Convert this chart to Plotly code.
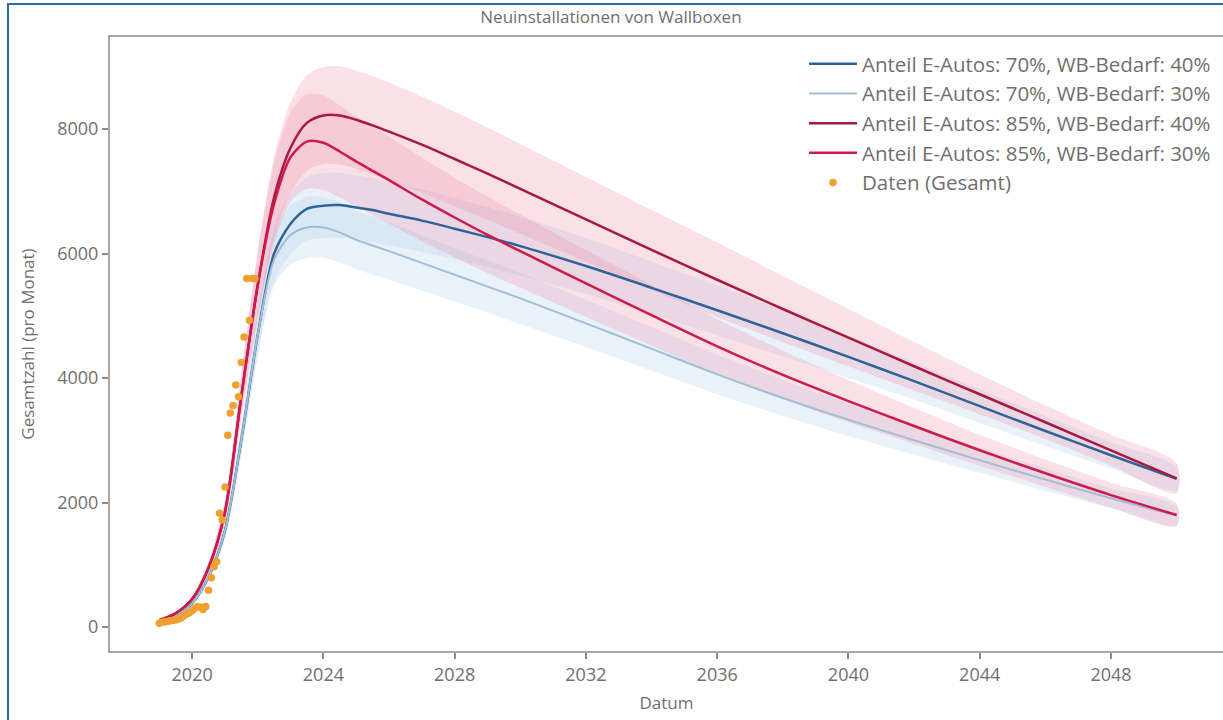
import plotly.graph_objects as go

# ---------------- data ----------------
dates = ["2019-01-01", "2019-07-01", "2020-01-01", "2020-07-01", "2021-01-01", "2021-07-01",
         "2022-01-01", "2022-07-01", "2023-01-01", "2023-07-01", "2024-01-01", "2024-07-01",
         "2025-01-01", "2025-07-01", "2026-01-01", "2027-01-01", "2028-01-01", "2029-01-01",
         "2030-01-01", "2032-01-01", "2034-01-01", "2036-01-01", "2038-01-01", "2040-01-01",
         "2042-01-01", "2044-01-01", "2046-01-01", "2048-01-01", "2050-01-01"]

v_70_40 = [100, 190, 380, 800, 1550, 3000, 4700, 6000, 6480, 6720, 6770, 6780, 6740, 6700,
           6640, 6530, 6400, 6265, 6120, 5800, 5450, 5090, 4720, 4340, 3950, 3550, 3150, 2760, 2380]
v_70_30 = [100, 190, 380, 800, 1550, 3000, 4700, 5900, 6300, 6420, 6420, 6340, 6220, 6130,
           6040, 5850, 5660, 5470, 5280, 4880, 4470, 4060, 3680, 3330, 3000, 2680, 2370, 2070, 1790]
v_85_40 = [110, 220, 450, 950, 1850, 3700, 5500, 6900, 7700, 8100, 8220, 8220, 8150, 8060,
           7960, 7750, 7520, 7285, 7040, 6550, 6060, 5580, 5110, 4650, 4190, 3740, 3290, 2840, 2390]
v_85_30 = [110, 220, 450, 950, 1850, 3700, 5500, 6800, 7550, 7800, 7780, 7640, 7480, 7330,
           7180, 6870, 6580, 6300, 6040, 5520, 5010, 4510, 4050, 3630, 3230, 2840, 2470, 2120, 1800]

# half-width of the uncertainty bands
hw_70_40 = [8, 15, 30, 60, 120, 230, 350, 440, 490, 510, 520, 520, 520, 515,
            510, 500, 490, 480, 470, 450, 420, 400, 370, 340, 300, 270, 240, 210, 190]
hw_70_30 = [8, 15, 30, 60, 115, 220, 330, 420, 470, 490, 490, 480, 470, 465,
            460, 445, 430, 420, 410, 380, 350, 320, 290, 260, 230, 200, 180, 160, 150]
hw_85_40 = [10, 20, 40, 90, 180, 350, 520, 650, 730, 770, 780, 790, 790, 790,
            790, 775, 760, 740, 720, 680, 640, 600, 530, 460, 390, 320, 270, 250, 240]
hw_85_30 = [10, 20, 40, 90, 180, 350, 520, 640, 720, 760, 760, 740, 720, 710,
            700, 670, 640, 615, 590, 540, 490, 440, 390, 340, 290, 250, 220, 200, 180]

data_dates = ["2019-01-01", "2019-02-01", "2019-03-01", "2019-04-01", "2019-05-01", "2019-06-01",
              "2019-07-01", "2019-08-01", "2019-09-01", "2019-10-01", "2019-11-01", "2019-12-01",
              "2020-01-01", "2020-02-01", "2020-03-01", "2020-04-01", "2020-05-01", "2020-06-01",
              "2020-07-01", "2020-08-01", "2020-09-01", "2020-10-01", "2020-11-01", "2020-12-01",
              "2021-01-01", "2021-02-01", "2021-03-01", "2021-04-01", "2021-05-01", "2021-06-01",
              "2021-07-01", "2021-08-01", "2021-09-01", "2021-10-01", "2021-11-01", "2021-12-01"]
data_values = [60, 75, 80, 90, 100, 105, 115, 130, 150, 180, 210, 230,
               260, 300, 330, 320, 280, 330, 590, 790, 970, 1050, 1830, 1720,
               2250, 3080, 3440, 3560, 3890, 3700, 4250, 4660, 5600, 4930, 5600, 5600]

series = [
    ("Anteil E-Autos: 70%, WB-Bedarf: 40%", v_70_40, hw_70_40, "#2f6496", 2.5, "rgba(160,196,228,0.22)"),
    ("Anteil E-Autos: 70%, WB-Bedarf: 30%", v_70_30, hw_70_30, "#a2bed6", 2.0, "rgba(160,196,228,0.22)"),
    ("Anteil E-Autos: 85%, WB-Bedarf: 40%", v_85_40, hw_85_40, "#a8183f", 2.5, "rgba(236,130,160,0.24)"),
    ("Anteil E-Autos: 85%, WB-Bedarf: 30%", v_85_30, hw_85_30, "#cc1a4c", 2.5, "rgba(236,130,160,0.24)"),
]

FONT = "Open Sans"
GREY = "#6f6f6f"

fig = go.Figure()

# bands
for name, vals, hw, col, w, band in series:
    upper = [v + h for v, h in zip(vals, hw)]
    lower = [v - h for v, h in zip(vals, hw)]
    fig.add_trace(go.Scatter(x=dates + dates[::-1], y=upper + lower[::-1], fill="toself",
                             fillcolor=band, line=dict(width=0, shape="spline", smoothing=0.8),
                             mode="lines", showlegend=False, hoverinfo="skip"))

# lines
for i, (name, vals, hw, col, w, band) in enumerate(series):
    fig.add_trace(go.Scatter(x=dates, y=vals, mode="lines", name=name,
                             line=dict(color=col, width=w, shape="spline", smoothing=0.8),
                             legendgroup=f"g{i}"))

fig.add_trace(go.Scatter(x=data_dates, y=data_values, mode="markers", name="Daten (Gesamt)",
                         marker=dict(color="#f0a030", size=7.5), legendgroup="g9"))

L, R, T, B = 110, 0, 37, 69
W, H = 1223, 720
pw, ph = W - L - R, H - T - B

def px(x):
    return (x - L) / pw

def py(y):
    return (H - B - y) / ph

fig.update_layout(
    width=W, height=H,
    margin=dict(l=L, r=R, t=T, b=B, pad=0),
    paper_bgcolor="white", plot_bgcolor="white",
    font=dict(family=FONT, color=GREY, size=17),
    title=dict(text="Neuinstallationen von Wallboxen", x=px(666), xanchor="center",
               y=1 - 17 / H, yanchor="middle", font=dict(size=17, color=GREY)),
    showlegend=True,
    legend=dict(x=px(1216), xanchor="right", y=py(44), yanchor="top",
                font=dict(size=20.5, color=GREY), bgcolor="rgba(0,0,0,0)",
                tracegroupgap=0, traceorder="grouped", itemwidth=48),
    xaxis=dict(type="date", range=["2017-07-01", "2051-06-01"], dtick="M48",
               tick0="2020-01-01", tickformat="%Y", showgrid=False, zeroline=False,
               showline=True, linecolor="#a8a8a8", linewidth=2, mirror=True,
               ticks="outside", ticklen=6, tickcolor="#8a8a8a", tickwidth=2,
               tickfont=dict(size=18, color=GREY),
               title=dict(text="Datum", font=dict(size=17, color=GREY), standoff=13)),
    yaxis=dict(range=[-385, 9480], tickvals=[0, 2000, 4000, 6000, 8000],
               showgrid=False, zeroline=False,
               showline=True, linecolor="#a8a8a8", linewidth=2,
               ticks="outside", ticklen=6, tickcolor="#8a8a8a", tickwidth=2,
               tickfont=dict(size=18, color=GREY),
               title=dict(text="Gesamtzahl (pro Monat)", font=dict(size=17, color=GREY), standoff=18)),
    shapes=[
        dict(type="line", xref="paper", yref="paper", x0=px(8), x1=px(8), y0=py(3), y1=py(720),
             line=dict(color="#2b6aa3", width=2)),
        dict(type="line", xref="paper", yref="paper", x0=px(8), x1=px(1223), y0=py(4), y1=py(4),
             line=dict(color="#2b6aa3", width=2)),
    ],
)

fig.write_html("out.html", config={"displayModeBar": False},
               post_script="document.body.style.margin='0px';"
                           "document.body.style.overflow='hidden';"
                           "document.documentElement.style.overflow='hidden';")
